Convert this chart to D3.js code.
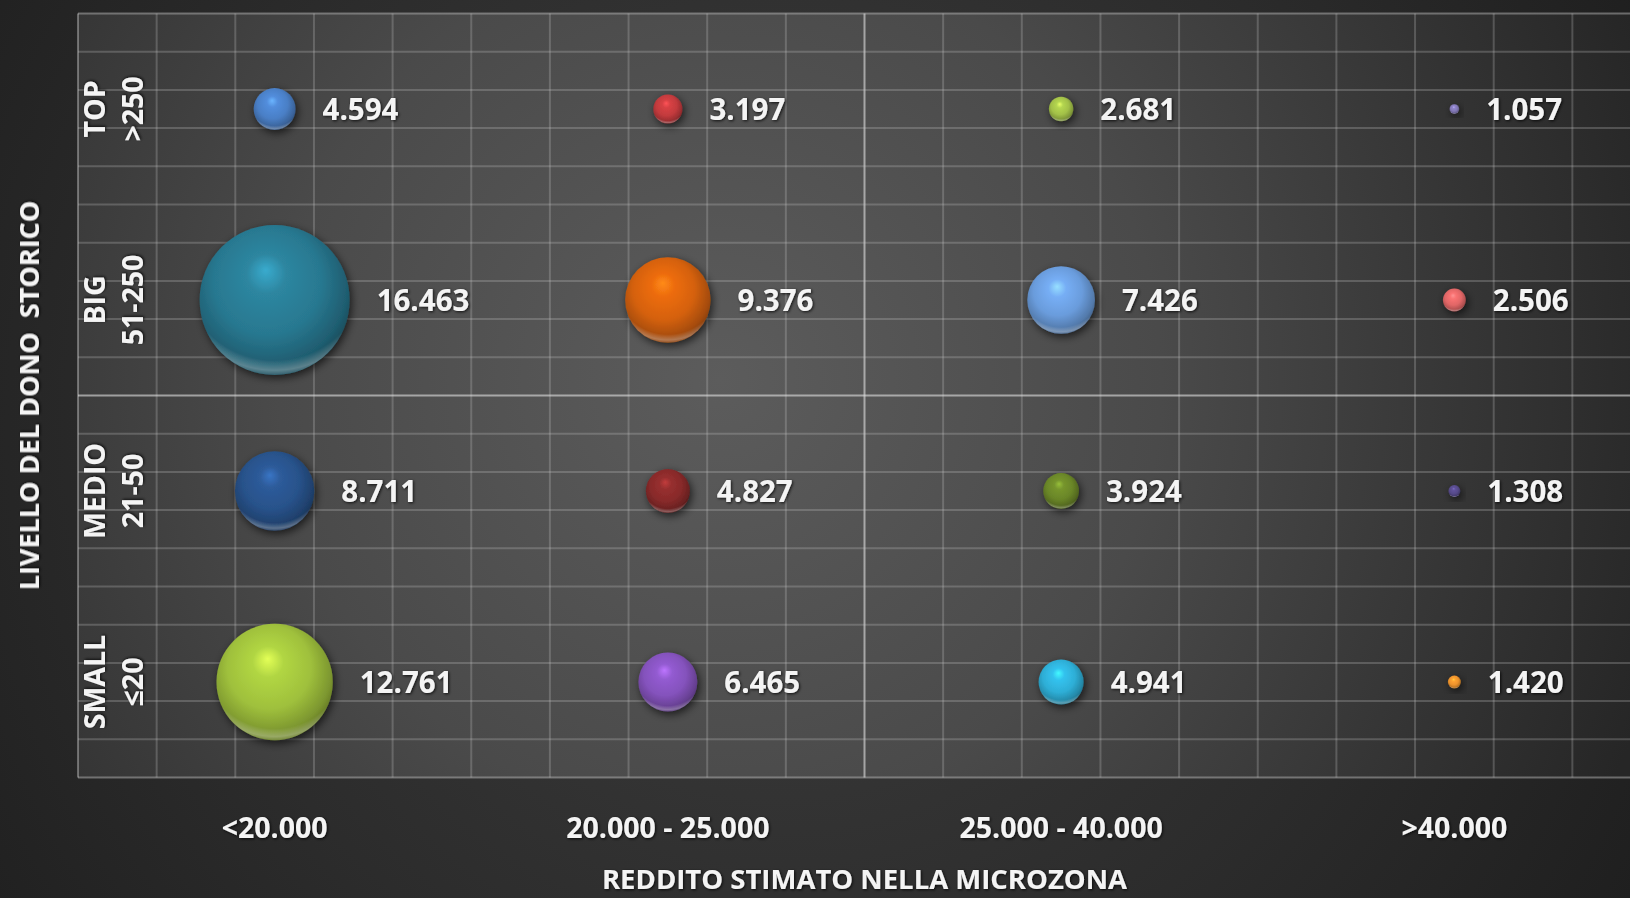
<!DOCTYPE html>
<html>
<head>
<meta charset="utf-8">
<script src="https://cdn.jsdelivr.net/npm/d3@7"></script>
<style>
  html, body { margin: 0; padding: 0; background: #242424; }
  svg { display: block; }
  text { font-family: "Open Sans", "DejaVu Sans", sans-serif; font-weight: 700; fill: #f4f4f4; }
</style>
</head>
<body>
<svg id="chart" width="1630" height="898"></svg>
<script>
// Income bands (x) and donor levels (y, top to bottom)
const incomeBands = ["<20.000", "20.000 - 25.000", "25.000 - 40.000", ">40.000"];
const donorLevels = ["TOP", "BIG", "MEDIO", "SMALL"];
const donorRanges = [">250", "51-250", "21-50", "≤20"];

// Number of donors per level, one value per income band
const donorsTop   = [4594, 3197, 2681, 1057];
const donorsBig   = [16463, 9376, 7426, 2506];
const donorsMedio = [8711, 4827, 3924, 1308];
const donorsSmall = [12761, 6465, 4941, 1420];

// Bubble colours per level, one per income band
const colorsTop   = ["#4a7fc6", "#c23a3d", "#a2c048", "#8278b6"];
const colorsBig   = ["#287890", "#d5610e", "#6a9cdc", "#e06666"];
const colorsMedio = ["#28528a", "#882a2a", "#6a8628", "#564a8a"];
const colorsSmall = ["#9fc03c", "#8452bc", "#2eaed6", "#ec922c"];

const xTitle = "REDDITO STIMATO NELLA MICROZONA";
const yTitle = "LIVELLO DEL DONO  STORICO";

const W = 1630, H = 898;
const plot = { left: 78, right: 1651, top: 13.5, bottom: 777.5 };

const valuesByLevel = [donorsTop, donorsBig, donorsMedio, donorsSmall];
const colorsByLevel = [colorsTop, colorsBig, colorsMedio, colorsSmall];

const points = [];
donorLevels.forEach((lvl, i) => {
  incomeBands.forEach((band, j) => {
    points.push({ level: lvl, band: band, value: valuesByLevel[i][j], color: colorsByLevel[i][j] });
  });
});

const itLocale = d3.formatLocale({ decimal: ",", thousands: ".", grouping: [3], currency: ["€", ""] });
const fmt = itLocale.format(",d");

const svg = d3.select("#chart");
const defs = svg.append("defs");

// Backgrounds
const bgGrad = defs.append("radialGradient").attr("id", "bg")
  .attr("gradientUnits", "userSpaceOnUse")
  .attr("cx", 780).attr("cy", 430).attr("r", 1000);
bgGrad.append("stop").attr("offset", 0).attr("stop-color", "#3e3e3e");
bgGrad.append("stop").attr("offset", 0.6).attr("stop-color", "#2c2c2c");
bgGrad.append("stop").attr("offset", 1).attr("stop-color", "#1e1e1e");

const plotGrad = defs.append("radialGradient").attr("id", "plotbg")
  .attr("gradientUnits", "userSpaceOnUse")
  .attr("cx", 720).attr("cy", 380).attr("r", 980);
plotGrad.append("stop").attr("offset", 0).attr("stop-color", "#5c5c5c");
plotGrad.append("stop").attr("offset", 0.45).attr("stop-color", "#4a4a4a");
plotGrad.append("stop").attr("offset", 1).attr("stop-color", "#262626");

svg.append("rect").attr("width", W).attr("height", H).attr("fill", "url(#bg)");
svg.append("rect")
  .attr("x", plot.left).attr("y", plot.top)
  .attr("width", plot.right - plot.left).attr("height", plot.bottom - plot.top)
  .attr("fill", "url(#plotbg)");

// Scales
const x = d3.scaleBand().domain(incomeBands).range([plot.left, plot.right]);
const y = d3.scaleBand().domain(donorLevels).range([plot.top, plot.bottom]);
const r = d3.scaleLinear().domain([0, d3.max(points, d => d.value)]).range([0, 75]);
const gx = d3.scaleLinear().domain([0, 20]).range([plot.left, plot.right]);
const gy = d3.scaleLinear().domain([0, 20]).range([plot.top, plot.bottom]);

// Gridlines: five minor divisions per band, major line between the halves
const lineColor = d => d === 10 ? "rgba(225,225,225,0.6)"
  : (d === 0 || d === 20) ? "rgba(215,215,215,0.4)" : "rgba(200,200,200,0.26)";
const grid = svg.append("g");
grid.selectAll(".vx").data(d3.range(0, 21)).join("line")
  .attr("x1", d => gx(d)).attr("x2", d => gx(d))
  .attr("y1", plot.top).attr("y2", plot.bottom)
  .attr("stroke", lineColor)
  .attr("stroke-width", 2);
grid.selectAll(".hy").data(d3.range(0, 21)).join("line")
  .attr("y1", d => gy(d)).attr("y2", d => gy(d))
  .attr("x1", plot.left).attr("x2", plot.right)
  .attr("stroke", lineColor)
  .attr("stroke-width", 2);

// Filters
const shadow = defs.append("filter").attr("id", "ballShadow")
  .attr("x", "-40%").attr("y", "-40%").attr("width", "180%").attr("height", "180%");
shadow.append("feDropShadow").attr("dx", 2).attr("dy", 3).attr("stdDeviation", 4)
  .attr("flood-color", "#000").attr("flood-opacity", 0.65);

const textShadow = defs.append("filter").attr("id", "textShadow")
  .attr("x", "-20%").attr("y", "-40%").attr("width", "140%").attr("height", "180%");
textShadow.append("feDropShadow").attr("dx", 1).attr("dy", 1).attr("stdDeviation", 1.6)
  .attr("flood-color", "#000").attr("flood-opacity", 0.8);

// Rim highlight along the lower edge of each sphere
const rim = defs.append("radialGradient").attr("id", "rim")
  .attr("cx", 0.5).attr("cy", 0.28).attr("r", 0.74);
rim.append("stop").attr("offset", 0.84).attr("stop-color", "#fff").attr("stop-opacity", 0);
rim.append("stop").attr("offset", 0.93).attr("stop-color", "#fff").attr("stop-opacity", 0.28);
rim.append("stop").attr("offset", 1).attr("stop-color", "#fff").attr("stop-opacity", 0);

// Sphere shading per bubble colour
points.forEach((p, i) => {
  const c = d3.color(p.color);
  const g = defs.append("radialGradient").attr("id", "ball" + i)
    .attr("cx", 0.46).attr("cy", 0.42).attr("r", 0.6)
    .attr("fx", 0.44).attr("fy", 0.3);
  g.append("stop").attr("offset", 0).attr("stop-color", c.brighter(1.0).formatHex());
  g.append("stop").attr("offset", 0.22).attr("stop-color", c.brighter(0.3).formatHex());
  g.append("stop").attr("offset", 0.6).attr("stop-color", c.formatHex());
  g.append("stop").attr("offset", 0.88).attr("stop-color", c.darker(0.7).formatHex());
  g.append("stop").attr("offset", 1).attr("stop-color", c.darker(1.4).formatHex());
  p.grad = "url(#ball" + i + ")";
});

// Bubbles
const balls = svg.append("g").selectAll("g").data(points).join("g")
  .attr("transform", d => `translate(${x(d.band) + x.bandwidth() / 2},${y(d.level) + y.bandwidth() / 2})`);
balls.append("circle").attr("r", d => r(d.value)).attr("fill", d => d.grad)
  .attr("filter", "url(#ballShadow)");
balls.append("circle").attr("r", d => r(d.value)).attr("fill", "url(#rim)");

// Value labels to the right of each bubble
svg.append("g").selectAll("text").data(points).join("text")
  .attr("x", d => x(d.band) + x.bandwidth() / 2 + r(d.value) + 27)
  .attr("y", d => y(d.level) + y.bandwidth() / 2)
  .attr("dy", "0.36em")
  .attr("font-size", 29.5)
  .attr("filter", "url(#textShadow)")
  .text(d => fmt(d.value));

// X axis labels
const xAxis = svg.append("g")
  .attr("transform", `translate(0,${plot.bottom})`)
  .call(d3.axisBottom(x).tickSize(0).tickPadding(0));
xAxis.select(".domain").remove();
xAxis.selectAll("text")
  .attr("y", 50).attr("dy", "0.36em")
  .attr("font-size", 28.5)
  .attr("font-family", null)
  .attr("fill", null)
  .attr("filter", "url(#textShadow)");

// Y axis labels: level name and donation range, rotated
const yLabels = svg.append("g").selectAll("g").data(donorLevels).join("g");
yLabels.append("text")
  .attr("transform", d => `translate(95,${y(d) + y.bandwidth() / 2}) rotate(-90)`)
  .attr("text-anchor", "middle").attr("dy", "0.36em")
  .attr("font-size", 28.5).attr("filter", "url(#textShadow)")
  .text(d => d);
yLabels.append("text")
  .attr("transform", (d, i) => `translate(133,${y(d) + y.bandwidth() / 2}) rotate(-90)`)
  .attr("text-anchor", "middle").attr("dy", "0.36em")
  .attr("font-size", 28.5).attr("filter", "url(#textShadow)")
  .text((d, i) => donorRanges[i]);

// Axis titles
svg.append("text")
  .attr("x", (plot.left + plot.right) / 2).attr("y", 879).attr("dy", "0.36em")
  .attr("text-anchor", "middle").attr("font-size", 27.5)
  .attr("filter", "url(#textShadow)")
  .text(xTitle);
svg.append("text")
  .attr("transform", `translate(29,${(plot.top + plot.bottom) / 2}) rotate(-90)`)
  .attr("text-anchor", "middle").attr("dy", "0.36em")
  .attr("font-size", 27)
  .style("white-space", "pre")
  .attr("filter", "url(#textShadow)")
  .text(yTitle);
</script>
</body>
</html>
